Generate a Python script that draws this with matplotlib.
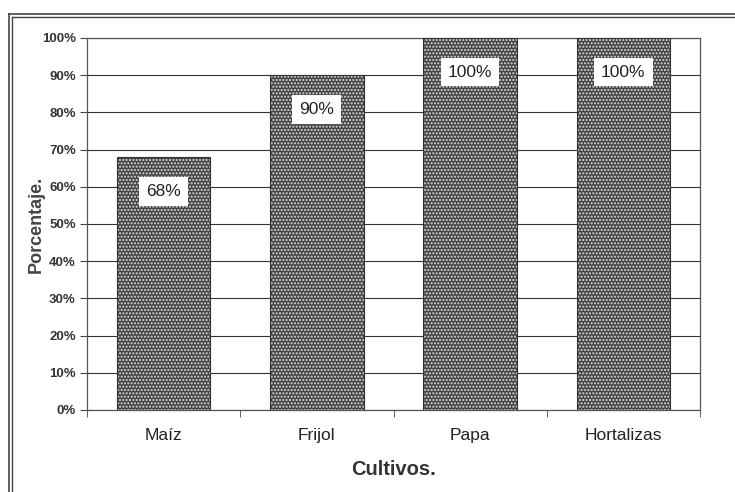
import matplotlib
matplotlib.use("Agg")
import matplotlib.pyplot as plt
from matplotlib.ticker import FixedLocator

plt.rcParams['font.family'] = ['Liberation Sans', 'DejaVu Sans']

categories = ["Maíz", "Frijol", "Papa", "Hortalizas"]
values = [68, 90, 100, 100]
labels = ["68%", "90%", "100%", "100%"]
yticks = [0, 10, 20, 30, 40, 50, 60, 70, 80, 90, 100]
yticklabels = ["0%", "10%", "20%", "30%", "40%", "50%", "60%", "70%", "80%", "90%", "100%"]

fig = plt.figure(figsize=(7.35, 4.92), dpi=100)
ax = fig.add_axes([87/735, 1 - 410/492, (700 - 87)/735, (410 - 38)/492])

x = list(range(len(categories)))
ax.bar(x, values, width=0.61, color='#444444', edgecolor='#dddddd', hatch='.....', linewidth=0, zorder=3)
ax.bar(x, values, width=0.61, fill=False, edgecolor='#333333', linewidth=0.8, zorder=4)

for xi, v, lab in zip(x, values, labels):
    ax.annotate(lab, (xi, v), xytext=(0, -24.5), textcoords='offset points',
                ha='center', va='center', fontsize=12.5, color='#222222', zorder=5,
                bbox=dict(boxstyle='square,pad=0.4', facecolor='white', edgecolor='none'))

ax.set_xlim(-0.5, 3.5)
ax.set_ylim(0, 100)
ax.set_yticks(yticks)
ax.set_yticklabels(yticklabels, fontsize=9.5, fontweight='bold', color='#333333')
ax.set_xticks(x)
ax.set_xticklabels(categories, fontsize=12.5, color='#222222')
ax.xaxis.set_minor_locator(FixedLocator([-0.5, 0.5, 1.5, 2.5, 3.5]))
ax.tick_params(axis='x', which='major', length=0, pad=13)
ax.tick_params(axis='x', which='minor', length=5, direction='out', color='#444444')
ax.tick_params(axis='y', length=5, direction='out', color='#444444', pad=3)

ax.yaxis.grid(True, color='#333333', linewidth=0.8, zorder=0)
ax.set_axisbelow(True)
for s in ax.spines.values():
    s.set_color('#555555')
    s.set_linewidth(0.9)

ax.set_ylabel("Porcentaje.", fontsize=13, fontweight='bold', color='#444444', labelpad=-2)
ax.set_xlabel("Cultivos.", fontsize=14.5, fontweight='bold', color='#333333', labelpad=12)

# outer double border
fig.add_artist(plt.Line2D([9/735, 9/735], [0, 1 - 14/492], transform=fig.transFigure, color='#444444', lw=1.2))
fig.add_artist(plt.Line2D([12/735, 12/735], [0, 1 - 17/492], transform=fig.transFigure, color='#444444', lw=1.0))
fig.add_artist(plt.Line2D([9/735, 1], [1 - 14/492, 1 - 14/492], transform=fig.transFigure, color='#444444', lw=1.2))
fig.add_artist(plt.Line2D([12/735, 1], [1 - 17/492, 1 - 17/492], transform=fig.transFigure, color='#444444', lw=1.0))

fig.savefig("out.png", dpi=100, facecolor='white')
